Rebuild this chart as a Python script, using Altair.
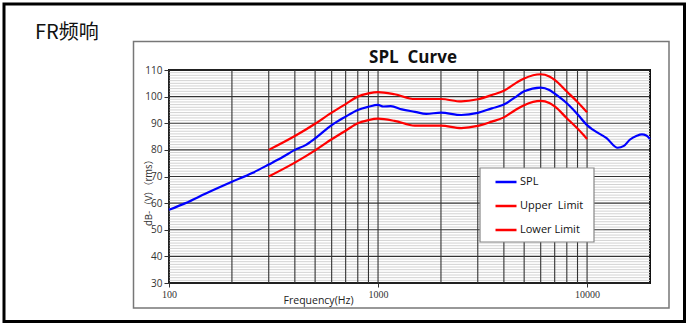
import altair as alt
import pandas as pd

# ---- data ----
spl_freq = [100, 120, 150, 200, 250, 300, 350, 400, 450, 500, 600, 700, 800, 900,
            1000, 1060, 1150, 1300, 1500, 1700, 2000, 2500, 3000, 3500, 4000, 4500,
            5000, 6000, 6600, 7000, 8000, 9000, 10000, 10700, 12400, 14000, 15000,
            16000, 17300, 18300, 19200, 20000]
spl_db = [57.5, 60.0, 63.6, 68.0, 71.3, 74.5, 77.3, 80.0, 81.8, 84.3, 89.3, 92.5, 95.0, 96.2,
          96.9, 96.3, 96.4, 95.2, 94.3, 93.5, 94.0, 93.1, 93.9, 95.6, 97.0, 99.6,
          102.0, 103.4, 102.5, 101.1, 97.5, 93.4, 89.3, 87.5, 84.4, 80.8, 81.5,
          83.8, 85.3, 85.8, 85.4, 84.1]

lim_freq = [300, 400, 500, 600, 700, 800, 900, 1000, 1200, 1500, 2000, 2500, 3000,
            3500, 4000, 4500, 5000, 6000, 6600, 7000, 8000, 9000, 10000]
upper_db = [80.0, 85.2, 89.8, 94.0, 97.2, 100.0, 101.2, 101.7, 100.9, 99.1, 99.1, 98.2, 99.0,
            100.6, 102.2, 104.8, 106.8, 108.4, 107.6, 106.3, 101.9, 98.0, 94.1]
lower_db = [70.0, 75.2, 79.8, 84.0, 87.2, 90.0, 91.2, 91.7, 90.9, 89.1, 89.1, 88.2, 89.0,
            90.6, 92.2, 94.8, 96.8, 98.4, 97.6, 96.3, 91.9, 88.0, 84.1]

series_names = ["SPL", "Upper\u00a0 Limit", "Lower Limit"]
series_colors = ["#0000ff", "#ff0000", "#ff0000"]

x_grid = [100, 200, 300, 400, 500, 600, 700, 800, 900,
          1000, 2000, 3000, 4000, 5000, 6000, 7000, 8000, 9000, 10000]
x_labels = [100, 1000, 10000]
y_major = [30, 40, 50, 60, 70, 80, 90, 100, 110]
y_minor = [v for v in range(31, 110) if v % 10 != 0]

# ---- tables ----
lines_df = pd.concat([
    pd.DataFrame({"freq": spl_freq, "db": spl_db, "series": series_names[0], "o": range(len(spl_freq))}),
    pd.DataFrame({"freq": lim_freq, "db": upper_db, "series": series_names[1], "o": range(len(lim_freq))}),
    pd.DataFrame({"freq": lim_freq, "db": lower_db, "series": series_names[2], "o": range(len(lim_freq))}),
])
vgrid_df = pd.DataFrame({"freq": x_grid})
hmaj_df = pd.DataFrame({"db": y_major})
hmin_df = pd.DataFrame({"db": y_minor})
one = pd.DataFrame({"a": [0]})

xscale = alt.Scale(type="log", domain=[100, 20000], nice=False)
yscale = alt.Scale(domain=[30, 110], nice=False, zero=False)

xaxis = alt.Axis(values=x_labels, format="d", title="Frequency(Hz)", grid=False, domain=False,
                 labelFont="Liberation Serif", labelFontSize=10, labelColor="#333",
                 labelFlush=False,
                 tickSize=4, tickColor="#333", labelPadding=2,
                 titleFont="Open Sans", titleFontSize=10.5, titleFontWeight="normal",
                 titleColor="#222", titleX=149, titleY=17, titleAlign="center",
                 titleBaseline="middle")
yaxis = alt.Axis(values=y_major, title="dB-（V）（rms）", grid=False, domain=False,
                 labelFont="Open Sans", labelFontSize=10, labelColor="#333",
                 labelFlush=False,
                 tickSize=5, tickColor="#333", labelPadding=2,
                 titleFont="Noto Sans CJK SC", titleFontSize=9.5, titleFontWeight="normal",
                 titleColor="#333", titleX=-21, titleY=120, titleAngle=270,
                 titleAlign="center", titleBaseline="middle")

def X():
    return alt.X("freq:Q", scale=xscale, axis=xaxis)

def Y():
    return alt.Y("db:Q", scale=yscale, axis=yaxis)

outer = alt.Chart(one).mark_rect(filled=False, color="black", strokeWidth=3).encode(
    x=alt.value(-165), x2=alt.value(515.5), y=alt.value(-66), y2=alt.value(251.5))
box = alt.Chart(one).mark_rect(filled=False, color="#777", strokeWidth=1.5).encode(
    x=alt.value(-35.5), x2=alt.value(500), y=alt.value(-28.5), y2=alt.value(238))

hmin = alt.Chart(hmin_df).mark_rule(color="#d2d2d2", strokeWidth=1).encode(y=Y())
hmaj = alt.Chart(hmaj_df).mark_rule(color="#333", strokeWidth=1.1).encode(y=Y())
vgrid = alt.Chart(vgrid_df).mark_rule(color="#333", strokeWidth=1.1).encode(x=X())

legbox = alt.Chart(one).mark_rect(fill="white", stroke="#888", strokeWidth=1.2).encode(
    x=alt.value(311), x2=alt.value(425), y=alt.value(98), y2=alt.value(172))

lines = alt.Chart(lines_df).mark_line(strokeWidth=2.2, interpolate="monotone").encode(
    x=X(), y=Y(),
    color=alt.Color("series:N",
                    scale=alt.Scale(domain=series_names, range=series_colors),
                    sort=series_names,
                    legend=alt.Legend(title=None, orient="none", legendX=325, legendY=100,
                                      symbolType="stroke", symbolSize=441,
                                      symbolStrokeWidth=2.5, rowPadding=7, padding=0,
                                      labelFont="Open Sans", labelFontSize=11,
                                      labelColor="#111", labelOffset=2)),
    order="o:Q",
)

fr_text = alt.Chart(one).mark_text(text="FR频响", font="Noto Sans CJK SC", fontSize=20,
                                   align="left", baseline="alphabetic", color="#111").encode(
    x=alt.value(-134), y=alt.value(-31))
title_text = alt.Chart(one).mark_text(text="SPL\u00a0 Curve", font="Open Sans", fontSize=17,
                                      fontWeight="bold", align="center", baseline="alphabetic",
                                      color="#111").encode(
    x=alt.value(244), y=alt.value(-7.5))

chart = alt.layer(outer, box, hmin, hmaj, vgrid, legbox, lines, fr_text, title_text).properties(
    width=481, height=213,
    padding={"left": 169, "top": 70, "right": 41, "bottom": 43},
    autosize=alt.AutoSizeParams(type="none"),
    background="white",
).configure_view(stroke="#111", strokeWidth=2)

chart.save("out.html", embed_options={"renderer": "svg", "actions": False})
